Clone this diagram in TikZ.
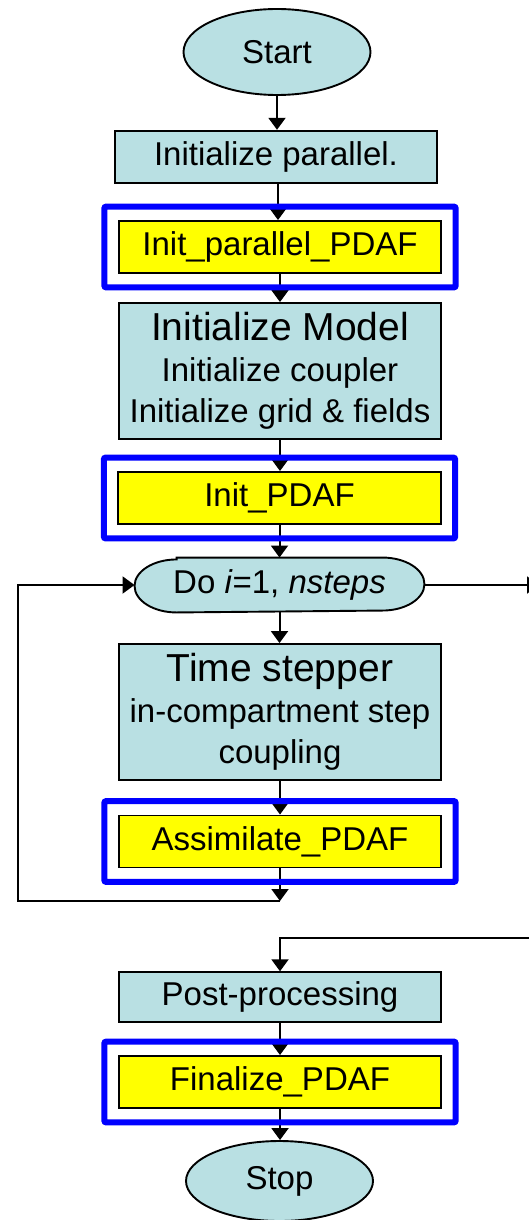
\documentclass[tikz,border=0pt]{standalone}
\usepackage{fontspec}
\setmainfont{Liberation Sans}
\usetikzlibrary{shapes.geometric,arrows.meta,fit,calc}

\definecolor{boxfill}{RGB}{185,224,227}
\definecolor{pdafyellow}{RGB}{255,255,0}
\definecolor{pdafblue}{RGB}{0,0,255}

\tikzset{
  base/.style={draw=black, line width=1.9pt, inner sep=0pt, align=center,
               font=\fontsize{33}{41}\selectfont},
  procbox/.style={base, rectangle, fill=boxfill, minimum width=322pt},
  pdafbox/.style={base, rectangle, fill=pdafyellow, minimum width=322.5pt, minimum height=52pt},
  terminal/.style={base, ellipse, fill=boxfill, minimum width=187pt, minimum height=86pt},
  pdafframe/.style={draw=pdafblue, line width=6pt, rounded corners=2pt, inner sep=13.5pt},
  flow/.style={draw=black, line width=2pt, -{Triangle[width=17pt,length=12pt]}},
}

\begin{document}
\begin{tikzpicture}[x=1pt,y=1pt]
\useasboundingbox (0,0) rectangle (528,-1220);

% process chain
\node[terminal] (start) at (277,-52) {Start};
\node[procbox, minimum height=52.5pt] (ipar) at (276,-157) {Initialize parallel.};
\node[pdafbox] (ippdaf) at (280,-247) {Init\_parallel\_PDAF};
\node[procbox, minimum height=136pt] (imodel) at (280,-371)
  {{\fontsize{39}{41}\selectfont Initialize Model}\\Initialize coupler\\Initialize grid \& fields};
\node[pdafbox] (ipdaf) at (279.5,-498) {Init\_PDAF};

% time loop header: flat top and bottom, elliptic ends
\node[base, draw=none, minimum width=288pt, minimum height=53pt] (doloop) at (279.5,-585) {};
\fill[boxfill, draw=black, line width=1.9pt]
  ($(doloop.north west)+(42,0)$) -- ($(doloop.north east)+(-42,0)$)
  arc[start angle=90, end angle=-90, x radius=42, y radius=26.5]
  -- ($(doloop.south west)+(42,0)$)
  arc[start angle=270, end angle=90, x radius=42, y radius=26.5] -- cycle;
\node[font=\fontsize{33}{41}\selectfont, inner sep=0pt] (dolabel) at (doloop.center)
  {Do \textit{i}=1, \textit{nsteps}};

\node[procbox, minimum height=136pt] (tstep) at (280,-712)
  {{\fontsize{39}{41}\selectfont Time stepper}\\in-compartment step\\coupling};
\node[pdafbox] (assim) at (280,-841.5) {Assimilate\_PDAF};

\node[procbox, minimum height=49.5pt] (post) at (280,-997) {Post-processing};
\node[pdafbox] (fin) at (280,-1082) {Finalize\_PDAF};
\node[terminal, minimum height=80pt] (stop) at (279.5,-1181) {Stop};

% routing points
\coordinate (ipartail) at (278,-183.25);
\coordinate (loopend) at (280,-901);
\coordinate (loopleft) at (17.5,-901);
\coordinate (exitright) at (539,-585);
\coordinate (reentry) at (545,-938);
\coordinate (reentrycorner) at (280,-938);

% connectors
\draw[flow] (start.south) -- (start.south |- ipar.north);
\draw[flow] (ipartail) -- (ipartail |- ippdaf.north);
\draw[flow] (ippdaf.south) -- (ippdaf.south |- imodel.north);
\draw[flow] (imodel.south) -- (imodel.south |- ipdaf.north);
\draw[flow] (ipdaf.south) -- (ipdaf.south |- doloop.north);
\draw[flow] (doloop.south) -- (doloop.south |- tstep.north);
\draw[flow] (tstep.south) -- (tstep.south |- assim.north);
\draw[flow] (assim.south) -- (loopend);
\draw[flow] (loopend) -- (loopleft) -- (loopleft |- doloop.west) -- (doloop.west);
\draw[flow] (doloop.east) -- (exitright);
\draw[flow] (reentry) -- (reentrycorner) -- (reentrycorner |- post.north);
\draw[flow] (post.south) -- (post.south |- fin.north);
\draw[flow] (fin.south) -- (fin.south |- stop.north);

% PDAF call frames
\node[pdafframe, fit=(ippdaf)] (frame1) {};
\node[pdafframe, fit=(ipdaf)] (frame2) {};
\node[pdafframe, fit=(assim)] (frame3) {};
\node[pdafframe, fit=(fin)] (frame4) {};
\end{tikzpicture}
\end{document}
